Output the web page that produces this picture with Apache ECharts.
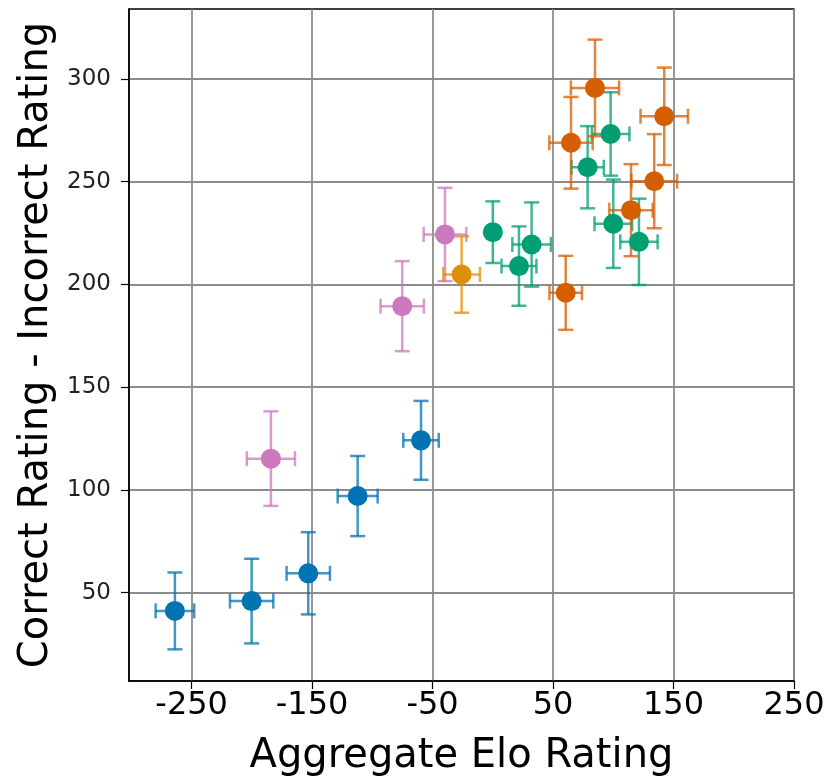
<!DOCTYPE html>
<html>
<head>
<meta charset="utf-8">
<script src="https://cdn.jsdelivr.net/npm/echarts@6/dist/echarts.min.js"></script>
<style>
  html, body { margin: 0; padding: 0; background: #fff; }
  #chart-container { width: 831px; height: 781px; }
</style>
</head>
<body>
<div id="chart-container"></div>
<script>
'use strict';

const xTicks = [-250, -150, -50, 50, 150, 250];
const yTicks = [50, 100, 150, 200, 250, 300];

// blue
const blueX = [-263.9, -200.2, -153.2, -112.2, -59.6];
const blueY = [41.1, 45.9, 59.4, 97.0, 124.1];
const blueXErr = [16, 18, 18, 16.6, 14.7];
const blueYErr = [18.7, 20.6, 20, 19.5, 19.2];

// pink
const pinkX = [-184.2, -75.2, -39.7];
const pinkY = [115.2, 189.4, 224.3];
const pinkXErr = [20, 18, 17.7];
const pinkYErr = [23, 21.9, 22.7];

// yellow
const yellowX = [-25.9];
const yellowY = [204.8];
const yellowXErr = [15.2];
const yellowYErr = [18.6];

// green
const greenX = [0, 21.7, 32.2, 97.8, 78.7, 100, 121.3];
const greenY = [225.4, 208.9, 219.4, 273.2, 257.0, 229.5, 220.7];
const greenXErr = [2, 14.5, 16, 15.6, 13.4, 15.6, 15.5];
const greenYErr = [15, 19.3, 20.5, 20.3, 20, 21.5, 21];

// orange
const orangeX = [60.5, 64.9, 84.8, 142.3, 134.0, 114.7];
const orangeY = [195.9, 268.9, 295.6, 281.8, 250.2, 236.1];
const orangeXErr = [13.5, 18, 20, 19.7, 19, 18];
const orangeYErr = [18, 22.3, 23.5, 23.7, 22.9, 22.4];

const groups = [
    { color: '#0173B2', x: blueX, y: blueY, xe: blueXErr, ye: blueYErr },
    { color: '#CC78BC', x: pinkX, y: pinkY, xe: pinkXErr, ye: pinkYErr },
    { color: '#DE8F05', x: yellowX, y: yellowY, xe: yellowXErr, ye: yellowYErr },
    { color: '#029E73', x: greenX, y: greenY, xe: greenXErr, ye: greenYErr },
    { color: '#D55E00', x: orangeX, y: orangeY, xe: orangeXErr, ye: orangeYErr }
];

const FONT = 'DejaVu Sans';
const CAP = 7.5;

function errorBars(color) {
    return function (params, api) {
        const x = api.value(0), y = api.value(1);
        const xe = api.value(2), ye = api.value(3);
        const c = api.coord([x, y]);
        const l = api.coord([x - xe, y]);
        const r = api.coord([x + xe, y]);
        const t = api.coord([x, y + ye]);
        const b = api.coord([x, y - ye]);
        const style = { stroke: color, lineWidth: 2.5, opacity: 0.75 };
        const line = (x1, y1, x2, y2) => ({
            type: 'line',
            shape: { x1: x1, y1: y1, x2: x2, y2: y2 },
            style: style
        });
        return {
            type: 'group',
            children: [
                line(c[0], t[1], c[0], b[1]),
                line(t[0] - CAP, t[1], t[0] + CAP, t[1]),
                line(b[0] - CAP, b[1], b[0] + CAP, b[1]),
                line(l[0], c[1], r[0], c[1]),
                line(l[0], c[1] - CAP, l[0], c[1] + CAP),
                line(r[0], c[1] - CAP, r[0], c[1] + CAP)
            ]
        };
    };
}

const series = [];
groups.forEach(function (g) {
    const data = g.x.map((v, i) => [v, g.y[i], g.xe[i], g.ye[i]]);
    series.push({
        type: 'custom',
        renderItem: errorBars(g.color),
        data: data,
        encode: { x: 0, y: 1 },
        silent: true
    });
    series.push({
        type: 'scatter',
        data: data.map(d => [d[0], d[1]]),
        symbol: 'circle',
        symbolSize: 20,
        itemStyle: { color: g.color, opacity: 1 },
        silent: true
    });
});

const myChart = echarts.init(document.getElementById('chart-container'), null, { renderer: 'canvas' });

const option = {
    animation: false,
    backgroundColor: '#fff',
    grid: {
        left: 129,
        right: 37,
        top: 9,
        bottom: 100,
        show: true,
        borderColor: '#000',
        borderWidth: 1.5,
        outerBoundsMode: 'none'
    },
    xAxis: {
        type: 'value',
        min: -302,
        max: 250,
        name: 'Aggregate Elo Rating',
        nameLocation: 'middle',
        nameGap: 56,
        nameTextStyle: { fontFamily: FONT, fontSize: 40, color: '#000' },
        axisLine: { show: true, onZero: false, lineStyle: { color: '#000', width: 1.5 } },
        axisTick: { show: true, length: 8, customValues: xTicks, lineStyle: { color: '#000', width: 1.2 } },
        axisLabel: {
            customValues: xTicks,
            fontFamily: FONT, fontSize: 32, color: '#000', margin: 9
        },
        splitLine: { show: true, lineStyle: { color: '#8c8c8c', width: 1.8 } }
    },
    yAxis: {
        type: 'value',
        min: 7,
        max: 334,
        name: 'Correct Rating - Incorrect Rating',
        nameLocation: 'middle',
        nameGap: 72,
        nameTextStyle: { fontFamily: FONT, fontSize: 40, color: '#000' },
        axisLine: { show: true, onZero: false, lineStyle: { color: '#000', width: 1.5 } },
        axisTick: { show: true, length: 8, customValues: yTicks, lineStyle: { color: '#000', width: 1.2 } },
        axisLabel: {
            customValues: yTicks,
            fontFamily: FONT, fontSize: 23, color: '#222', margin: 18
        },
        splitLine: { show: true, lineStyle: { color: '#8c8c8c', width: 1.8 } }
    },
    series: series
};

myChart.setOption(option);
window.addEventListener('resize', myChart.resize);
</script>
</body>
</html>
